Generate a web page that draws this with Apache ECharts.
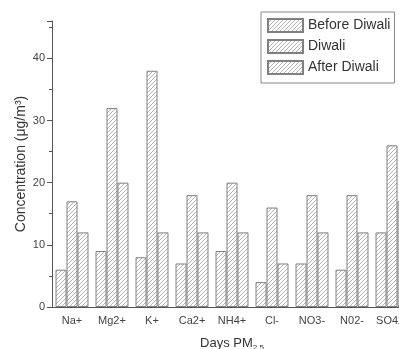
<!DOCTYPE html>
<html><head><meta charset="utf-8">
<script src="https://cdn.jsdelivr.net/npm/echarts@6/dist/echarts.min.js"></script>
<style>html,body{margin:0;padding:0;background:#fff}#c{width:399px;height:349px}</style>
</head><body><div id="c"></div>
<script>
var categories = ['Na+','Mg2+','K+','Ca2+','NH4+','Cl-','NO3-','N02-','SO42-'];
var beforeDiwali = [6, 9, 8, 7, 9, 4, 7, 6, 12];
var diwali = [17, 32, 38, 18, 20, 16, 18, 18, 26];
var afterDiwali = [12, 20, 12, 12, 12, 7, 12, 12, 17];
var seriesNames = ['Before Diwali', 'Diwali', 'After Diwali'];

function hatch() {
  var c = document.createElement('canvas');
  c.width = 4; c.height = 4;
  var g = c.getContext('2d');
  g.fillStyle = '#ffffff'; g.fillRect(0,0,4,4);
  g.strokeStyle = '#b4b4b4'; g.lineWidth = 1;
  g.beginPath();
  g.moveTo(0,4); g.lineTo(4,0);
  g.moveTo(-1,1); g.lineTo(1,-1);
  g.moveTo(3,5); g.lineTo(5,3);
  g.stroke();
  return c;
}
var pat = {image: hatch(), repeat: 'repeat'};

var chart = echarts.init(document.getElementById('c'), null, {renderer:'canvas'});
var font = 'Liberation Sans, Arial, sans-serif';
function mk(name, data) {
  return {
    name: name, type: 'bar', data: data, barWidth: 11, barGap: '0%',
    itemStyle: {color: pat, borderColor: '#808080', borderWidth: 1},
    emphasis: {disabled: true}, animation: false
  };
}
chart.setOption({
  animation: false,
  grid: {left: 52, top: 21, width: 360, height: 286, containLabel: false, outerBoundsMode: 'none'},
  legend: {
    orient: 'vertical', left: 261, top: 12,
    padding: [6, 4, 8, 6], itemGap: 6, itemWidth: 35, itemHeight: 13,
    icon: 'rect',
    borderColor: '#888', borderWidth: 1,
    textStyle: {fontSize: 14, color: '#333', fontFamily: font},
    data: seriesNames, selectedMode: false
  },
  xAxis: [{
    type: 'category', data: categories,
    axisLine: {lineStyle: {color: '#555', width: 1}},
    axisTick: {alignWithLabel: true, length: 5, lineStyle: {color: '#555'}},
    axisLabel: {fontSize: 11, color: '#444', margin: 8, fontFamily: font, interval: 0},
    name: '{a|Days PM}{b|2.5}', nameLocation: 'middle', nameGap: 28, nameMoveOverlap: false,
    nameTextStyle: {
      align: 'center', verticalAlign: 'top',
      rich: {
        a: {fontSize: 13, color: '#333', fontFamily: font},
        b: {fontSize: 8, color: '#333', fontFamily: font, padding: [9,0,0,0]}
      }
    }
  }, {
    type: 'category', data: categories, position: 'bottom',
    axisLine: {show: false},
    axisTick: {length: 3, lineStyle: {color: '#555'}},
    axisLabel: {show: false}
  }],
  yAxis: {
    type: 'value', min: 0, max: 46, interval: 10,
    axisLine: {show: true, lineStyle: {color: '#555'}},
    axisTick: {show: true, length: 5, lineStyle: {color: '#555'}},
    minorTick: {show: true, splitNumber: 2, length: 3, lineStyle: {color: '#555'}},
    splitLine: {show: false},
    axisLabel: {fontSize: 11, color: '#444', margin: 7, fontFamily: font, showMaxLabel: false},
    name: 'Concentration (μg/m³)', nameLocation: 'middle', nameGap: 24, nameMoveOverlap: false,
    nameTextStyle: {fontSize: 14, color: '#333', fontFamily: font}
  },
  series: [mk(seriesNames[0], beforeDiwali), mk(seriesNames[1], diwali), mk(seriesNames[2], afterDiwali)]
});
</script></body></html>
